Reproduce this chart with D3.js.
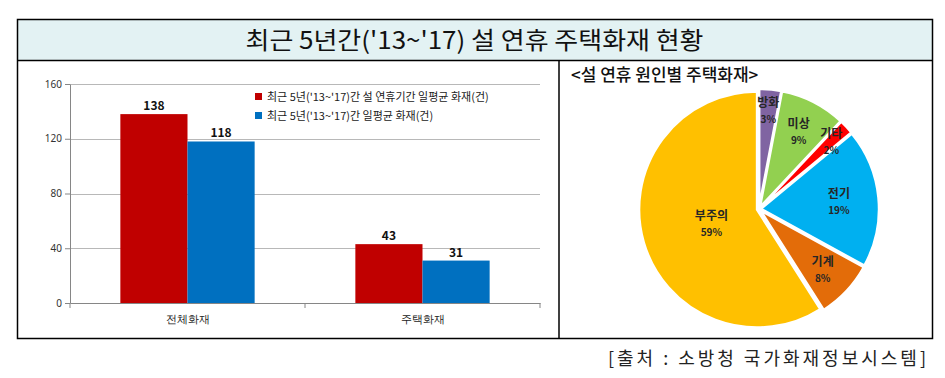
<!DOCTYPE html>
<html>
<head>
<meta charset="utf-8">
<script src="https://cdn.jsdelivr.net/npm/d3@7"></script>
<style>
  body { margin: 0; background: #fff; }
  svg { display: block; font-family: "Noto Sans CJK KR", "Noto Sans", sans-serif; }
</style>
</head>
<body>
<div id="chart"></div>
<script>
// *Data
const title = "최근 5년간('13~'17) 설 연휴 주택화재 현황";
const categories = ["전체화재", "주택화재"];
const seriesNames = [
  "최근 5년('13~'17)간 설 연휴기간 일평균 화재(건)",
  "최근 5년('13~'17)간 일평균 화재(건)",
];
const holidayAvg = [138, 43];
const dailyAvg = [118, 31];
const yTicks = [0, 40, 80, 120, 160];

const pieTitle = "<설 연휴 원인별 주택화재>";
const causes = ["방화", "미상", "기타", "전기", "기계", "부주의"];
const causeShare = [3, 9, 2, 19, 8, 59];
const source = "[출처 : 소방청 국가화재정보시스템]";

const barColors = ["#C00000", "#0070C0"];
const pieColors = ["#8064A2", "#92D050", "#FF0000", "#00B0F0", "#E36C09", "#FFC000"];

const W = 945, H = 378;
const svg = d3.select("#chart").append("svg").attr("width", W).attr("height", H);

// *Table frame
const box = { left: 17, right: 932, top: 19, head: 60.5, bottom: 338, split: 559 };
svg.append("rect")
  .attr("x", box.left).attr("y", box.top)
  .attr("width", box.right - box.left).attr("height", box.head - box.top)
  .attr("fill", "#E3F2F3");
svg.append("rect")
  .attr("x", box.left + 0.5).attr("y", box.top + 0.5)
  .attr("width", box.right - box.left).attr("height", box.bottom - box.top)
  .attr("fill", "none").attr("stroke", "#000").attr("stroke-width", 1.5);
svg.append("line")
  .attr("x1", box.left).attr("x2", box.right + 0.5)
  .attr("y1", box.head).attr("y2", box.head)
  .attr("stroke", "#000").attr("stroke-width", 1.5);
svg.append("line")
  .attr("x1", box.split).attr("x2", box.split)
  .attr("y1", box.head).attr("y2", box.bottom)
  .attr("stroke", "#000").attr("stroke-width", 1.5);

svg.append("text")
  .attr("x", (box.left + box.right) / 2)
  .attr("y", 49)
  .attr("text-anchor", "middle")
  .style("font-size", "24px")
  .attr("textLength", 458)
  .attr("lengthAdjust", "spacingAndGlyphs")
  .attr("fill", "#111")
  .text(title);

// *Bar chart
const plot = { left: 70, right: 540, top: 84, bottom: 303 };
const x0 = d3.scaleBand().domain(categories).range([plot.left, plot.right]).paddingInner(0).paddingOuter(0);
const x1 = d3.scaleBand().domain([0, 1]).range([0, x0.bandwidth()]).paddingOuter(0.75).paddingInner(0);
const y = d3.scaleLinear().domain([0, 160]).range([plot.bottom, plot.top]);

// gridlines
svg.append("g")
  .selectAll("line")
  .data(yTicks.filter((t) => t > 0))
  .enter()
  .append("line")
  .attr("x1", plot.left).attr("x2", plot.right)
  .attr("y1", (d) => Math.round(y(d)) + 0.5).attr("y2", (d) => Math.round(y(d)) + 0.5)
  .attr("stroke", "#B8B8B8");

const series = [holidayAvg, dailyAvg];
const groups = svg.append("g")
  .selectAll("g")
  .data(categories)
  .enter()
  .append("g")
  .attr("transform", (d) => "translate(" + x0(d) + ",0)");

groups.selectAll("rect")
  .data((d, i) => series.map((s, k) => ({ k: k, v: s[i] })))
  .enter()
  .append("rect")
  .attr("x", (d) => x1(d.k))
  .attr("width", x1.bandwidth())
  .attr("y", (d) => y(d.v))
  .attr("height", (d) => y(0) - y(d.v))
  .attr("fill", (d) => barColors[d.k]);

groups.selectAll("text")
  .data((d, i) => series.map((s, k) => ({ k: k, v: s[i] })))
  .enter()
  .append("text")
  .attr("x", (d) => x1(d.k) + x1.bandwidth() / 2)
  .attr("y", (d) => y(d.v) - 4)
  .attr("text-anchor", "middle")
  .style("font-size", "12px")
  .style("font-weight", "bold")
  .attr("fill", "#111")
  .text((d) => d.v);

// y axis
const yAxis = svg.append("g")
  .attr("transform", "translate(" + plot.left + ",0)")
  .call(d3.axisLeft(y).tickValues(yTicks).tickSize(5).tickSizeOuter(0));
yAxis.select(".domain").attr("stroke", "#868686");
yAxis.selectAll(".tick line").attr("stroke", "#868686");
yAxis.selectAll("text")
  .attr("fill", "#333")
  .style("font-size", "10px")
  .style("font-family", "'Noto Sans', sans-serif");

// x axis
const xAxis = svg.append("g")
  .attr("transform", "translate(0," + plot.bottom + ")")
  .call(d3.axisBottom(x0).tickSize(0).tickPadding(12));
xAxis.select(".domain").attr("stroke", "#868686");
xAxis.selectAll("text").attr("fill", "#222").style("font-size", "11px");
xAxis.append("g")
  .selectAll("line")
  .data([plot.left, x0(categories[1]), plot.right])
  .enter()
  .append("line")
  .attr("x1", (d) => d).attr("x2", (d) => d)
  .attr("y1", 0).attr("y2", 5)
  .attr("stroke", "#868686");

// legend
const legend = svg.append("g")
  .selectAll("g")
  .data(seriesNames)
  .enter()
  .append("g")
  .attr("transform", (d, i) => "translate(255," + (97 + i * 19) + ")");
legend.append("rect")
  .attr("x", 0).attr("y", -4)
  .attr("width", 7).attr("height", 7)
  .attr("fill", (d, i) => barColors[i]);
legend.append("text")
  .attr("x", 12).attr("y", 4)
  .style("font-size", "11px")
  .attr("fill", "#222")
  .text((d) => d);

// *Pie chart
svg.append("text")
  .attr("x", 571).attr("y", 81)
  .style("font-size", "17px")
  .style("font-weight", "500")
  .attr("fill", "#111")
  .text(pieTitle);

const cx = 759, cy = 209, r = 118;
const pieData = causes.map((c, i) => ({ name: c, value: causeShare[i], color: pieColors[i] }));
const pie = d3.pie().sort(null).value((d) => d.value);
const arc = d3.arc().innerRadius(0).outerRadius(r);
const total = d3.sum(causeShare);
const arcs = pie(pieData);

const pieG = svg.append("g").attr("transform", "translate(" + cx + "," + cy + ")");

function shift(d, dist) {
  const a = (d.startAngle + d.endAngle) / 2;
  return [dist * Math.sin(a), -dist * Math.cos(a)];
}

pieG.append("g")
  .selectAll("path")
  .data(arcs)
  .enter()
  .append("path")
  .attr("transform", (d) => "translate(" + shift(d, 2) + ")")
  .attr("d", arc)
  .attr("fill", (d) => d.data.color)
  .attr("stroke", "#fff")
  .attr("stroke-width", 2.5);

function labelRadius(d) {
  const share = d.data.value / total;
  if (share > 0.5) return r * 0.42;
  if (share < 0.05) return r * 0.84;
  if (share > 0.15) return r * 0.68;
  return r * 0.74;
}

const labels = pieG.append("g")
  .selectAll("text")
  .data(arcs)
  .enter()
  .append("text")
  .attr("transform", (d) => "translate(" + shift(d, labelRadius(d)) + ")")
  .attr("text-anchor", "middle")
  .attr("fill", "#262626")
  .style("font-weight", "bold");
labels.append("tspan")
  .attr("x", 0).attr("y", -3)
  .style("font-size", "12px")
  .text((d) => d.data.name);
labels.append("tspan")
  .attr("x", 0).attr("y", 13)
  .style("font-size", "10px")
  .text((d) => d.data.value + "%");

// *Source
svg.append("text")
  .attr("x", 929).attr("y", 365)
  .attr("text-anchor", "end")
  .style("font-size", "18px")
  .style("letter-spacing", "3px")
  .attr("fill", "#222")
  .text(source);
</script>
</body>
</html>
